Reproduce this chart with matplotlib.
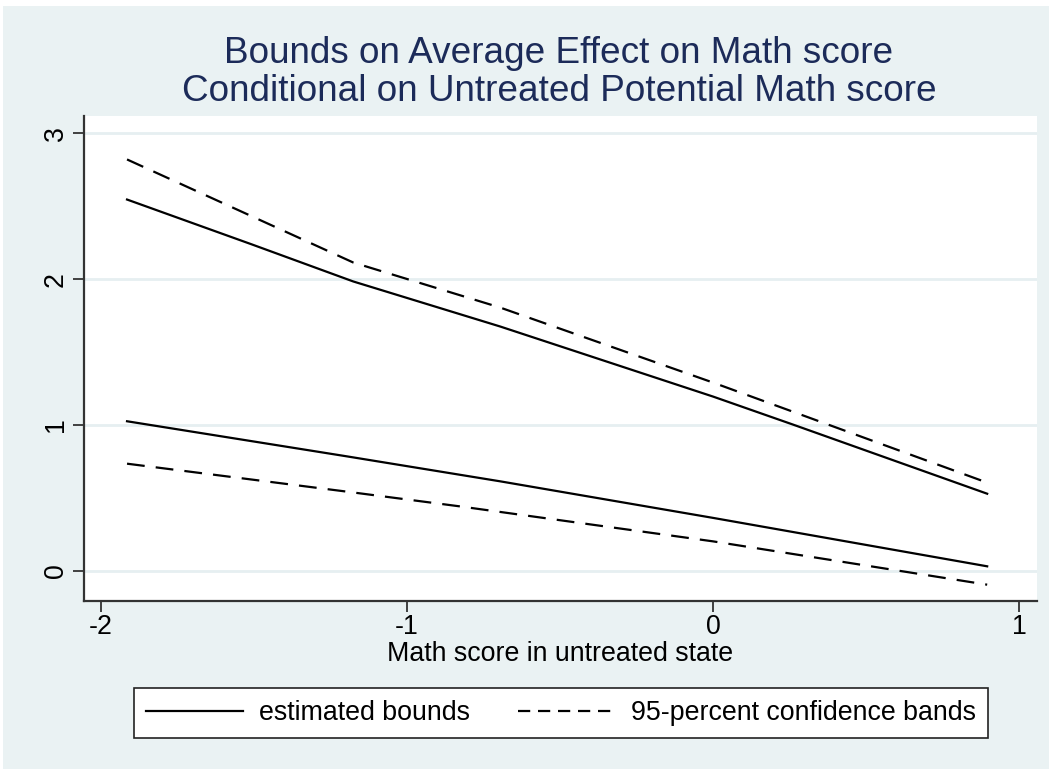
import matplotlib as mpl
mpl.use('Agg')
from matplotlib import pyplot as plt
from matplotlib.lines import Line2D
from matplotlib.patches import Rectangle

# Data
# upper bound (estimate and confidence band)
upper_x = [-1.915, -1.507, -1.176, -0.696, 0.0, 0.261, 0.895]
upper_est = [2.546, 2.238, 1.984, 1.675, 1.194, 1.002, 0.528]
upper_ci_x = [-1.915, -1.176, -0.696, 0.0, 0.895]
upper_ci = [2.821, 2.114, 1.805, 1.290, 0.604]

# lower bound (estimate and confidence band)
lower_x = [-1.915, -1.196, -0.696, 0.0, 0.895]
lower_est = [1.025, 0.784, 0.613, 0.362, 0.030]
lower_ci_x = [-1.915, -1.196, -0.827, 0.0, 0.895]
lower_ci = [0.734, 0.542, 0.441, 0.201, -0.096]

xticks = [-2, -1, 0, 1]
yticks = [0, 1, 2, 3]

title_lines = ['Bounds on Average Effect on Math score',
               'Conditional on Untreated Potential Math score']
xlabel = 'Math score in untreated state'
legend_labels = ['estimated bounds', '95-percent confidence bands']

# Stata s2color look
bg = '#eaf2f3'
title_color = '#1c2b59'
W, H = 1049, 769
fs = 19.3

plt.rcParams['font.family'] = ['Liberation Sans', 'DejaVu Sans']

fig = plt.figure(figsize=(W / 100, H / 100), dpi=100, facecolor='white')
# light background, with thin white strip at top/left like the reference
fig.patches.append(Rectangle((3 / W, 0), 1, 1 - 6 / H, transform=fig.transFigure,
                             facecolor=bg, edgecolor='none', zorder=-10))

ax = fig.add_axes([84.3 / W, 1 - 601.3 / H, (1036.7 - 84.3) / W, (601.3 - 116) / H])
ax.set_facecolor('white')

lw = 1.6
dash = (0, (8, 5))
ax.plot(upper_x, upper_est, color='black', lw=lw)
ax.plot(lower_x, lower_est, color='black', lw=lw)
ax.plot(upper_ci_x, upper_ci, color='black', lw=lw, linestyle=dash)
ax.plot(lower_ci_x, lower_ci, color='black', lw=lw, linestyle=dash)

ax.set_xlim(-2.0546, 1.0568)
ax.set_ylim(-0.210, 3.119)
ax.set_xticks(xticks)
ax.set_yticks(yticks)
ax.set_xticklabels([str(t) for t in xticks])
ax.set_yticklabels([str(t) for t in yticks], rotation=90, va='center')

# grid lines
for y in yticks:
    ax.axhline(y, color='#e6eff1', lw=2, zorder=0)

for side in ['top', 'right']:
    ax.spines[side].set_visible(False)
for side in ['left', 'bottom']:
    ax.spines[side].set_color('#333333')
    ax.spines[side].set_linewidth(1.6)

ax.tick_params(axis='both', direction='out', length=8, width=1.3,
               color='#333333', labelsize=fs)
ax.tick_params(axis='x', pad=1)
ax.tick_params(axis='y', pad=3)

ax.set_xlabel(xlabel, fontsize=fs, labelpad=1)

# title, two lines
fig.text(0.5325, 1 - 63 / H, title_lines[0], ha='center', va='baseline',
         fontsize=26.6, color=title_color)
fig.text(0.5335, 1 - 101 / H, title_lines[1], ha='center', va='baseline',
         fontsize=26.6, color=title_color)

# legend
handles = [Line2D([], [], color='black', lw=lw),
           Line2D([], [], color='black', lw=lw, linestyle=(0, (5.5, 3.5)))]
leg = fig.legend(handles, legend_labels, loc='center', ncol=2,
                 bbox_to_anchor=(561 / W, 1 - 713 / H), fontsize=fs,
                 frameon=True, fancybox=False, edgecolor='#222222',
                 facecolor='white', framealpha=1, handlelength=3.6,
                 handletextpad=0.6, columnspacing=1.8, borderpad=0.45)
leg.get_frame().set_linewidth(1.2)

plt.savefig('out.png', dpi=100, facecolor=fig.get_facecolor())
